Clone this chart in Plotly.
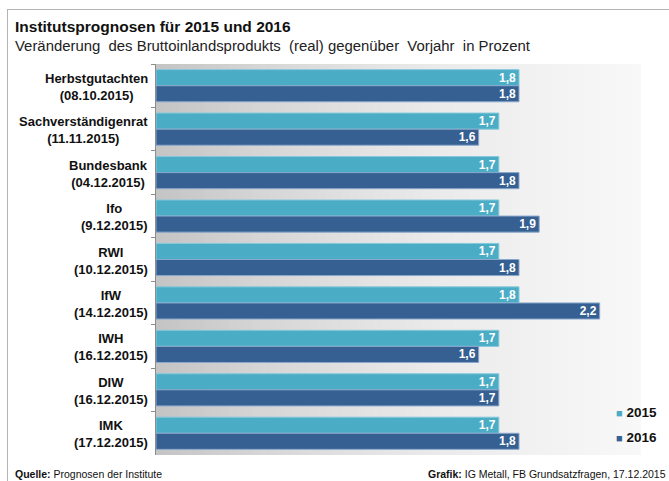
import plotly.graph_objects as go

categories = ["Herbstgutachten<br>(08.10.2015)", "Sachverständigenrat<br>(11.11.2015)",
              "Bundesbank<br>(04.12.2015)", "Ifo<br>(9.12.2015)", "RWI<br>(10.12.2015)",
              "IfW<br>(14.12.2015)", "IWH<br>(16.12.2015)", "DIW<br>(16.12.2015)",
              "IMK<br>(17.12.2015)"]
values_2015 = [1.8, 1.7, 1.7, 1.7, 1.7, 1.8, 1.7, 1.7, 1.7]
values_2016 = [1.8, 1.6, 1.8, 1.9, 1.8, 2.2, 1.6, 1.7, 1.8]
series_names = ["2015", "2016"]
colors = ["#4bacc6", "#366092"]

W, H = 669, 481
L, R, T, B = 156, 29, 64, 26
PW, PH = W - L - R, H - T - B

def px(x):
    return (x - L) / PW

def py(y):
    return (H - B - y) / PH

SANS = "Liberation Sans, Arial, sans-serif"

def fmt(v):
    return f"{v:.1f}".replace(".", ",")

fig = go.Figure()
for name, vals, col, lc in [(series_names[0], values_2015, colors[0], "#86c8da"),
                            (series_names[1], values_2016, colors[1], "#8aa8cc")]:
    fig.add_trace(go.Bar(
        y=categories, x=vals, name=name, orientation="h",
        marker=dict(color=col, line=dict(color=lc, width=1)),
        text=[fmt(v) for v in vals], textposition="inside", insidetextanchor="end",
        constraintext="none", cliponaxis=False,
        textfont=dict(color="white", size=12, family=SANS, weight="bold"),
        hoverinfo="skip", showlegend=False))

shapes = []
# horizontal gradient background in plot area
stops = [(0.0, 196), (0.2, 212), (0.4, 225), (0.6, 235), (0.8, 242), (1.0, 248)]
N = 60
for i in range(N):
    t = (i + 0.5) / N
    for j in range(len(stops) - 1):
        if stops[j][0] <= t <= stops[j + 1][0]:
            a, ca = stops[j]
            b, cb = stops[j + 1]
            c = int(round(ca + (cb - ca) * (t - a) / (b - a)))
            break
    shapes.append(dict(type="rect", xref="paper", yref="paper", x0=i / N, x1=(i + 1) / N + 0.002,
                       y0=0, y1=1, fillcolor=f"rgb({c},{c},{c})", line=dict(width=0), layer="below"))
# outer frame lines
shapes.append(dict(type="line", xref="paper", yref="paper", x0=px(7), x1=px(700), y0=py(9.5), y1=py(9.5),
                   line=dict(color="#b4b4b4", width=1)))
shapes.append(dict(type="line", xref="paper", yref="paper", x0=px(7.5), x1=px(7.5), y0=py(9), y1=py(500),
                   line=dict(color="#b4b4b4", width=1)))

annotations = []
for cat in categories:
    annotations.append(dict(xref="paper", yref="y", x=px(150), y=cat, text=cat, showarrow=False,
                            xanchor="right", yanchor="middle", align="center", yshift=-1,
                            font=dict(family=SANS, size=13, color="#111", weight="bold")))
annotations.append(dict(xref="paper", yref="paper", x=px(13), y=py(26), text="<b>Institutsprognosen für 2015 und 2016</b>",
                        showarrow=False, xanchor="left", yanchor="middle",
                        font=dict(family=SANS, size=15.5, color="#111")))
annotations.append(dict(xref="paper", yref="paper", x=px(13), y=py(46),
                        text="Veränderung  des Bruttoinlandsprodukts  (real) gegenüber  Vorjahr  in Prozent",
                        showarrow=False, xanchor="left", yanchor="middle",
                        font=dict(family=SANS, size=14.9, color="#222")))
annotations.append(dict(xref="paper", yref="paper", x=px(13), y=py(474), text="<b>Quelle:</b> Prognosen der Institute",
                        showarrow=False, xanchor="left", yanchor="middle",
                        font=dict(family=SANS, size=10.5, color="#111")))
annotations.append(dict(xref="paper", yref="paper", x=px(668), y=py(474),
                        text="<b>Grafik:</b> IG Metall, FB Grundsatzfragen, 17.12.2015",
                        showarrow=False, xanchor="right", yanchor="middle",
                        font=dict(family=SANS, size=10.5, color="#111")))
# legend
for name, col, ypx in [(series_names[0], colors[0], 412), (series_names[1], colors[1], 437)]:
    annotations.append(dict(xref="paper", yref="paper", x=px(614), y=py(ypx),
                            text=f'<span style="color:{col};font-size:11px">■</span> <b>{name}</b>',
                            showarrow=False, xanchor="left", yanchor="middle",
                            font=dict(family=SANS, size=13.5, color="#111")))

fig.update_layout(
    width=W, height=H, margin=dict(l=L, r=R, t=T, b=B, autoexpand=False),
    paper_bgcolor="white", plot_bgcolor="rgba(0,0,0,0)",
    barmode="group", bargap=0.26, bargroupgap=0,
    shapes=shapes, annotations=annotations,
    showlegend=False,
)
fig.update_xaxes(range=[0, 2.4], visible=False, showgrid=False, zeroline=False, automargin=False)
fig.update_yaxes(type="category", categoryorder="array", categoryarray=categories, autorange="reversed",
                 showticklabels=False, showline=True, linecolor="#8c8c8c", linewidth=1,
                 ticks="outside", ticklen=4, tickcolor="#8c8c8c", tickson="boundaries",
                 showgrid=False, zeroline=False, automargin=False)

fig.write_html("out.html", config={"displayModeBar": False},
               post_script="document.body.style.margin='0';document.body.style.overflow='hidden';")
